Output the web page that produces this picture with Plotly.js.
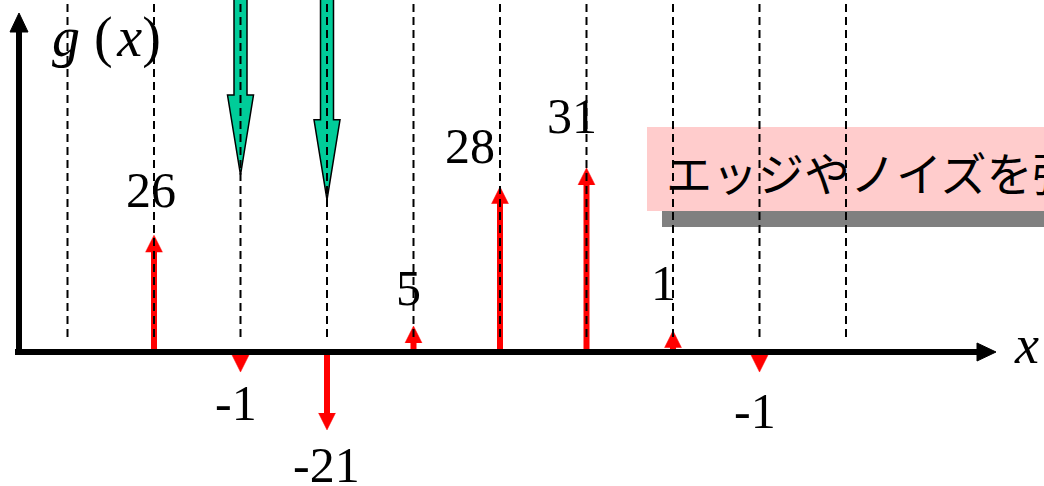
<!DOCTYPE html>
<html>
<head>
<meta charset="utf-8">
<script src="https://cdn.plot.ly/plotly-3.0.1.min.js"></script>
<style>
  html, body { margin: 0; padding: 0; background: #fff; }
  #chart { width: 1044px; height: 486px; }
</style>
</head>
<body>
<div id="chart"></div>
<script>
// amostras g(x) - valores escritos no desenho e comprimento desenhado das setas
const sampleIdx = [1, 2, 3, 4, 5, 6, 7, 8];
const sampleLabels = ['26', '-1', '-21', '5', '28', '31', '1', '-1'];
const arrowTips = [19.8, -3.4, -13.2, 4.4, 28.0, 31.2, 3.6, -3.4];

// linhas tracejadas em cada posicao de amostra
const gridIdx = [0, 1, 2, 3, 4, 5, 6, 7, 8, 9];

// setas verdes grandes vindo de cima
const greenIdx = [2, 3];
const greenTips = [30.0, 25.8];

const noteText = 'エッジやノイズを強調';

// escala da figura (px)
const W = 1044, H = 486;
const X0 = 67.5, DX = 86.5;   // px da posicao 0, px por amostra
const Y0 = 352, DY = 5.9;     // px do eixo, px por unidade
const xUnits = px => px / DX;
const yUnits = px => px / DY;
const px = x => x / W;
const py = y => 1 - y / H;

// hastes vermelhas + pontas
const headLen = yUnits(17), headHalf = xUnits(8.5);
const stemX = [], stemY = [], headX = [], headY = [];
sampleIdx.forEach((x, i) => {
    const tip = arrowTips[i];
    const dir = tip >= 0 ? 1 : -1;
    const base = tip - dir * headLen;
    if (base * dir > 0) {
        stemX.push(x, x, null);
        stemY.push(0, base + dir * 0.3, null);
    }
    headX.push(x - headHalf, x, x + headHalf, null);
    headY.push(base, tip, base, null);
});

// setas verdes (contorno)
const shaftHalf = xUnits(6.5), bigHalf = xUnits(13), bigLen = yUnits(80);
const greenX = [], greenY = [];
greenIdx.forEach((x, i) => {
    const tip = greenTips[i];
    const hb = tip + bigLen;
    const top = 80;
    greenX.push(x - shaftHalf, x - shaftHalf, x - bigHalf, x, x + bigHalf, x + shaftHalf, x + shaftHalf, null);
    greenY.push(top, hb, hb, tip, hb, hb, top, null);
});

const gridX = [], gridY = [];
gridIdx.forEach(x => {
    gridX.push(x, x, null);
    gridY.push(70, yUnits(Y0 - 341), null);
});

const data = [
    {
        x: greenX, y: greenY, type: 'scatter', mode: 'lines',
        fill: 'toself', fillcolor: '#00CC99',
        line: { color: '#000', width: 1.5 }, hoverinfo: 'skip'
    },
    {
        x: stemX, y: stemY, type: 'scatter', mode: 'lines',
        line: { color: '#FF0000', width: 6 }, hoverinfo: 'skip'
    },
    {
        x: headX, y: headY, type: 'scatter', mode: 'lines',
        fill: 'toself', fillcolor: '#FF0000',
        line: { color: '#FF0000', width: 0.5 }, hoverinfo: 'skip'
    },
    {
        x: gridX, y: gridY, type: 'scatter', mode: 'lines',
        line: { color: '#000', width: 2, dash: '8px,5px' }, hoverinfo: 'skip'
    }
];

// posicao dos numeros em relacao a ponta (px)
const labelShiftX = [-3, -5, -1, -5, -30, -15, -10, -5];
const labelShiftY = [45, -31, -35, 38, 41, 52, 48, -39];

const serif = 'Liberation Serif, Times New Roman, serif';
const annotations = sampleIdx.map((x, i) => ({
    x: x, y: arrowTips[i], xref: 'x', yref: 'y',
    text: sampleLabels[i], showarrow: false,
    xanchor: 'center', yanchor: 'middle',
    xshift: labelShiftX[i], yshift: labelShiftY[i],
    font: { family: serif, size: 50, color: '#000' }
}));

annotations.push(
    {
        x: px(106), y: py(37), xref: 'paper', yref: 'paper', showarrow: false,
        xanchor: 'center', yanchor: 'middle',
        text: '<i>g</i> (&#8202;<i>x</i>)', font: { family: serif, size: 56, color: '#000' }
    },
    {
        x: px(1026), y: py(345), xref: 'paper', yref: 'paper', showarrow: false,
        xanchor: 'center', yanchor: 'middle',
        text: '<i>x</i>', font: { family: serif, size: 54, color: '#000' }
    },
    {
        x: px(664), y: py(171), xref: 'paper', yref: 'paper', showarrow: false,
        xanchor: 'left', yanchor: 'middle', text: noteText,
        font: { family: 'Noto Sans CJK JP', size: 46, color: '#000' }
    }
);

const shapes = [
    // caixa rosa com sombra
    { type: 'rect', xref: 'paper', yref: 'paper', layer: 'below',
      x0: px(662), x1: 1.05, y0: py(227), y1: py(143),
      fillcolor: '#808080', line: { width: 0 } },
    { type: 'rect', xref: 'paper', yref: 'paper', layer: 'below',
      x0: px(647), x1: 1.05, y0: py(211), y1: py(127),
      fillcolor: '#FFCCCC', line: { width: 0 } },
    // eixos
    { type: 'line', xref: 'paper', yref: 'paper', layer: 'above',
      x0: px(15), x1: px(980), y0: py(Y0), y1: py(Y0),
      line: { color: '#000', width: 6 } },
    { type: 'path', xref: 'paper', yref: 'paper', layer: 'above',
      path: `M${px(977)},${py(343)} L${px(996)},${py(Y0)} L${px(977)},${py(361)} Z`,
      fillcolor: '#000', line: { color: '#000', width: 1 } },
    { type: 'line', xref: 'paper', yref: 'paper', layer: 'above',
      x0: px(19), x1: px(19), y0: py(Y0 + 3), y1: py(30),
      line: { color: '#000', width: 6 } },
    { type: 'path', xref: 'paper', yref: 'paper', layer: 'above',
      path: `M${px(10)},${py(32)} L${px(19)},${py(13)} L${px(28)},${py(32)} Z`,
      fillcolor: '#000', line: { color: '#000', width: 1 } }
];

const layout = {
    width: W, height: H,
    margin: { l: 0, r: 0, t: 0, b: 0 },
    paper_bgcolor: '#fff',
    plot_bgcolor: 'rgba(0,0,0,0)',
    showlegend: false,
    font: { family: serif },
    xaxis: { range: [-xUnits(X0), xUnits(W - X0)], visible: false, fixedrange: true },
    yaxis: { range: [yUnits(Y0 - H), yUnits(Y0)], visible: false, fixedrange: true },
    shapes: shapes,
    annotations: annotations
};

Plotly.newPlot('chart', data, layout, { staticPlot: true, displayModeBar: false });
</script>
</body>
</html>
